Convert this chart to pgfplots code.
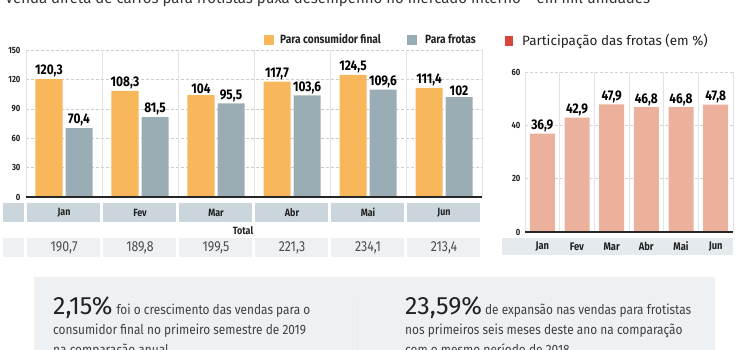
\documentclass[border=0pt]{standalone}
\usepackage{pgfplots}
\pgfplotsset{compat=1.18}
\usepackage{fontspec}
\setmainfont{Fira Sans}
\newfontfamily\cond{Fira Sans}[FakeStretch=0.85]
\newfontfamily\condb{Fira Sans}[FakeStretch=0.88]
\definecolor{orangebar}{HTML}{F8B75A}
\definecolor{graybar}{HTML}{9BADB4}
\definecolor{monthband}{HTML}{CAD6DC}
\definecolor{totband}{HTML}{EDF1F3}
\definecolor{salmon}{HTML}{EBB19C}
\definecolor{redsq}{HTML}{D9443C}
\definecolor{boxcol}{HTML}{EEF1F3}
\definecolor{rband}{HTML}{E4EAED}
\definecolor{txt}{HTML}{222222}
\pgfplotsset{/pgf/number format/assume math mode=true}
\begin{document}
\begin{tikzpicture}[x=1pt,y=1pt]
\useasboundingbox (0,0) rectangle (737,350);
\begin{scope}
\clip (0,0) rectangle (737,350);
% title (cut off at top)
\node[anchor=base west, inner sep=0, font=\fontsize{15}{15}\selectfont, text=black!80] at (5,346.5) {Venda direta de carros para frotistas puxa desempenho no mercado interno -- em mil unidades};

% legends
\fill[orangebar] (264,305) rectangle (274,315);
\node[anchor=base west, inner sep=0, font=\cond\bfseries\fontsize{12}{12}\selectfont, text=txt] at (280,306) {Para consumidor final};
\fill[graybar] (407,305) rectangle (417,315);
\node[anchor=base west, inner sep=0, font=\cond\bfseries\fontsize{12}{12}\selectfont, text=txt] at (425,306) {Para frotas};
\fill[redsq] (505,304) rectangle (513,314);
\node[anchor=base west, inner sep=0, font=\fontsize{13.5}{13.5}\selectfont, text=txt] at (522,304) {Participação das frotas (em \%)};

% left month band and totals
\fill[monthband] (3,128) rectangle (24,147);
\fill[totband] (3,93) rectangle (24,112);
\foreach \m [count=\i from 0] in {Jan,Fev,Mar,Abr,Mai,Jun}{
  \fill[monthband] (27+76*\i,128) rectangle (100+76*\i,147);
  \fill[totband] (27+76*\i,93) rectangle (100+76*\i,112);
  \node[font=\cond\bfseries\fontsize{10.5}{10.5}\selectfont, text=txt] at (64+76*\i,137.5) {\m};
}
\node[font=\cond\bfseries\fontsize{10.5}{10.5}\selectfont, text=txt] at (243,119) {Total};
\foreach \t [count=\i from 0] in {{190,7},{189,8},{199,5},{221,3},{234,1},{213,4}}{
  \node[font=\cond\fontsize{14.5}{14.5}\selectfont, text=black!70] at (64+76*\i,102.5) {\t};
}

% right month band
\fill[rband] (502,95) rectangle (733,112);
\foreach \m [count=\i from 0] in {Jan,Fev,Mar,Abr,Mai,Jun}{
  \node[font=\cond\bfseries\fontsize{11}{11}\selectfont, text=txt] at (542.3+34.67*\i,103.5) {\m};
}

% bottom box
\fill[gray!12] (34,-14) rectangle (715,73);
\fill[boxcol] (37,-10) rectangle (712,70);
\draw[white!85!gray, line width=0.8pt] (357,-10) -- (357,50);
\node[anchor=base west, inner sep=0, text=txt] at (53,35) {{\fontsize{25}{25}\selectfont 2,15\%}\hspace{4pt}{\condb\fontsize{13.5}{13.5}\selectfont\color{black!75}foi o crescimento das vendas para o}};
\node[anchor=base west, inner sep=0, text=black!75, font=\condb\fontsize{13.5}{13.5}\selectfont] at (53,15) {consumidor final no primeiro semestre de 2019};
\node[anchor=base west, inner sep=0, text=black!75, font=\condb\fontsize{13.5}{13.5}\selectfont] at (53,-5) {na comparação anual};
\node[anchor=base west, inner sep=0, text=txt] at (405,35) {{\fontsize{25}{25}\selectfont 23,59\%}\hspace{3pt}{\condb\fontsize{13.5}{13.5}\selectfont\color{black!75}de expansão nas vendas para frotistas}};
\node[anchor=base west, inner sep=0, text=black!75, font=\condb\fontsize{13.5}{13.5}\selectfont] at (405,15) {nos primeiros seis meses deste ano na comparação};
\node[anchor=base west, inner sep=0, text=black!75, font=\condb\fontsize{13.5}{13.5}\selectfont] at (405,-5) {com o mesmo período de 2018};

% left chart
\begin{axis}[
  at={(26pt,153pt)}, anchor=south west, scale only axis,
  width=456pt, height=147pt,
  xmin=-0.5, xmax=5.5, ymin=0, ymax=150,
  ybar, bar width=27pt,
  axis line style={draw=none},
  xtick=\empty, ytick={30,60,90,120,150}, extra y ticks={0}, extra y tick style={grid=none},
  major tick length=0pt,
  ymajorgrids, grid style={dash pattern=on 3pt off 2pt, gray!40},
  yticklabel style={font=\cond\bfseries\fontsize{9}{9}\selectfont, text=txt, xshift=-2pt},
  extra x ticks={-0.5,0.5,1.5,2.5,3.5,4.5,5.5}, extra x tick labels={},
  extra x tick style={grid=major, major grid style={solid, gray!22}},
  clip=false,
  nodes near coords={\pgfmathprintnumber[fixed,precision=1,use comma]{\pgfplotspointmeta}},
  nodes near coords style={font=\cond\bfseries\fontsize{14}{14}\selectfont, text=black, anchor=south, inner sep=1.5pt},
]
\addplot[fill=orangebar, draw=none, bar shift=-15pt] coordinates {(0,120.3) (1,108.3) (2,104) (3,117.7) (4,124.5) (5,111.4)};
\addplot[fill=graybar, draw=none, bar shift=15pt] coordinates {(0,70.4) (1,81.5) (2,95.5) (3,103.6) (4,109.6) (5,102)};
\draw[black!85, line width=1.2pt] (axis cs:-0.5,0) -- (axis cs:5.5,0);
\end{axis}

% right chart
\begin{axis}[
  at={(525pt,118pt)}, anchor=south west, scale only axis,
  width=208pt, height=160pt,
  xmin=-0.5, xmax=5.5, ymin=0, ymax=60,
  ybar, bar width=25pt,
  axis line style={draw=none},
  xtick=\empty, ytick={20,40,60}, extra y ticks={0}, extra y tick style={grid=none},
  major tick length=0pt,
  ymajorgrids, grid style={dash pattern=on 3pt off 2pt, gray!35},
  yticklabel style={font=\cond\bfseries\fontsize{9}{9}\selectfont, text=txt, xshift=-1pt},
  extra x ticks={-0.5,0.5,1.5,2.5,3.5,4.5,5.5}, extra x tick labels={},
  extra x tick style={grid=major, major grid style={solid, gray!22}},
  clip=false,
  nodes near coords={\pgfmathprintnumber[fixed,precision=1,use comma]{\pgfplotspointmeta}},
  nodes near coords style={font=\cond\bfseries\fontsize{14}{14}\selectfont, text=black, anchor=south, inner sep=1.5pt},
]
\addplot[fill=salmon, draw=none] coordinates {(0,36.9) (1,42.9) (2,47.9) (3,46.8) (4,46.8) (5,47.8)};
\draw[black!85, line width=1.2pt] (axis cs:-0.5,0) -- (axis cs:5.5,0);
\end{axis}
\end{scope}
\end{tikzpicture}
\end{document}
